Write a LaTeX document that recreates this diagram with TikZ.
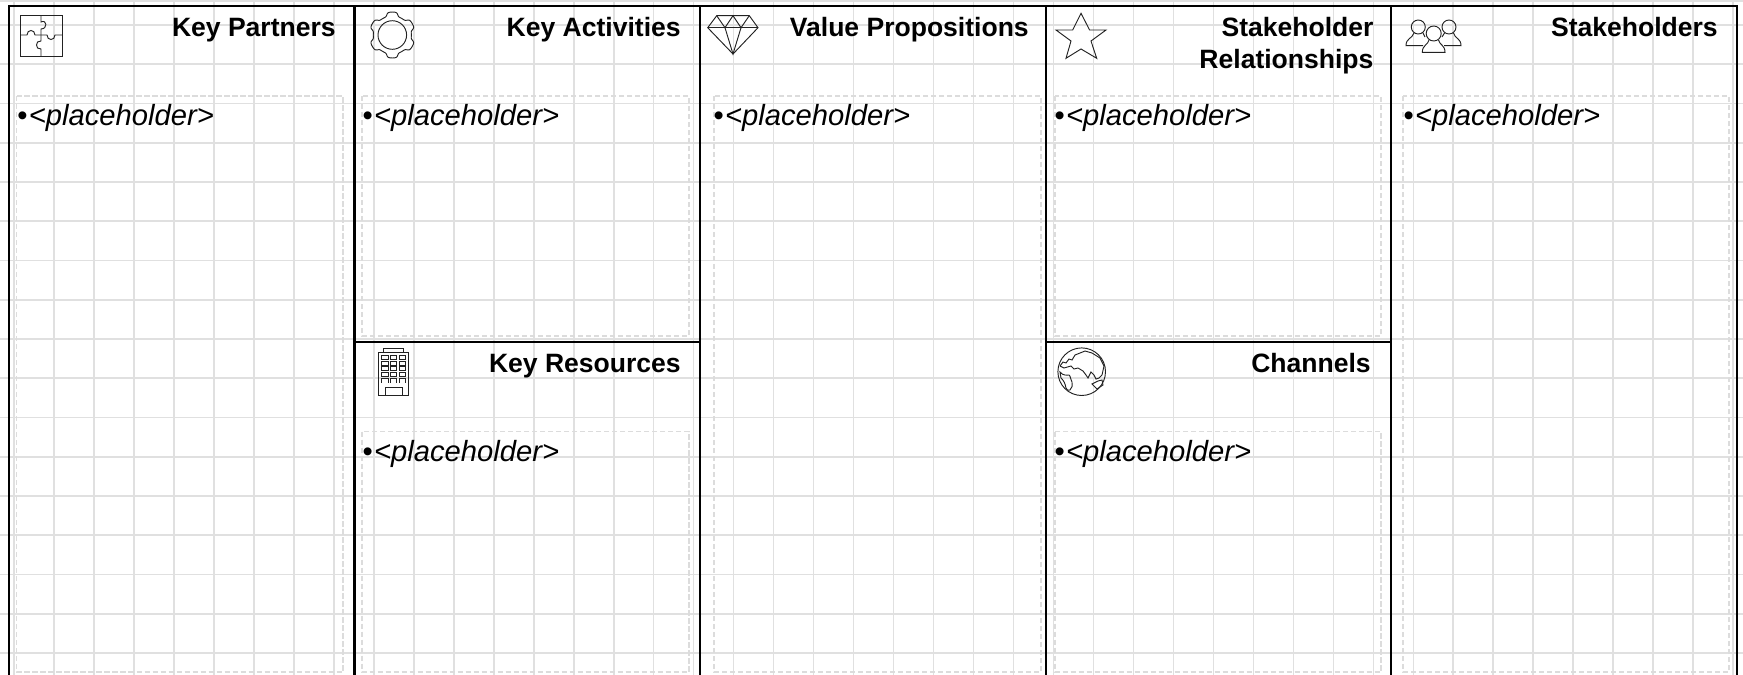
\documentclass[tikz,border=0pt]{standalone}
\usepackage{fontspec}
\setmainfont{Liberation Sans}
\definecolor{gridgray}{HTML}{E0E0E0}
\definecolor{dashgray}{HTML}{DCDCDC}
\definecolor{icongray}{HTML}{222222}
\newcommand{\placeholdertext}{•\kern1pt\textit{<placeholder>}}
\tikzset{
  gridline/.style={color=gridgray,line width=1.2pt},
  dashbox/.style={color=dashgray,line width=1pt,dash pattern=on 4pt off 2pt},
  frameline/.style={color=black,line width=1.6pt},
  iconline/.style={color=icongray,line width=0.7pt},
  windowline/.style={color=icongray,line width=0.45pt},
  titletext/.style={anchor=base east,inner sep=0pt,align=right,font=\fontsize{19.9}{24}\selectfont\bfseries},
  bodytext/.style={anchor=base west,inner sep=0pt,font=\fontsize{21.9}{25}\selectfont}
}
\begin{document}
\begin{tikzpicture}[x=0.75pt,y=-0.75pt]
\useasboundingbox (0,0) rectangle (1743,675);
\draw[gridline,y=0.75pt,shift={(14,-25)},xstep=39.98,ystep=39.25] (-14,-650) grid (1729,25);
\draw[gridline] (0,1) -- (1743,1);
\draw[dashbox] (16.5,96) rectangle (343,672);
\draw[dashbox] (362,96) rectangle (689,336);
\draw[dashbox] (362,431.5) rectangle (689,672);
\draw[dashbox] (714,96) rectangle (1041,672);
\draw[dashbox] (1055,96) rectangle (1381,336);
\draw[dashbox] (1055,431.5) rectangle (1381,672);
\draw[dashbox] (1403,96) rectangle (1729,672);
\draw[frameline] (9,675) -- (9,6) -- (1737,6) -- (1737,675);
\draw[frameline] (354.5,6) -- (354.5,675);
\draw[frameline] (700,6) -- (700,675);
\draw[frameline] (1045.7,6) -- (1045.7,675);
\draw[frameline] (1391,6) -- (1391,675);
\draw[frameline] (354.5,342) -- (700,342);
\draw[frameline] (1045.7,342) -- (1391,342);
\node[titletext] (partners) at (336,36) {Key Partners};
\node[titletext] (activities) at (681,36) {Key Activities};
\node[titletext] (propositions) at (1029,36) {Value Propositions};
\node[titletext] (relationships) at (1373.7,68) {Stakeholder\\Relationships};
\node[titletext] (stakeholders) at (1718,36) {Stakeholders};
\node[titletext] (resources) at (681,372) {Key Resources};
\node[titletext] (channels) at (1371,372) {Channels};
\node[bodytext] (partnerslist) at (17,125) {\placeholdertext};
\node[bodytext] (activitieslist) at (362.3,125) {\placeholdertext};
\node[bodytext] (propositionslist) at (713.3,125) {\placeholdertext};
\node[bodytext] (relationshipslist) at (1054.3,125) {\placeholdertext};
\node[bodytext] (stakeholderslist) at (1403.3,125) {\placeholdertext};
\node[bodytext] (resourceslist) at (362.3,461.5) {\placeholdertext};
\node[bodytext] (channelslist) at (1054.3,461.5) {\placeholdertext};
\draw[iconline] (20,15) rectangle (62,56);
\draw[iconline] (41,15) -- (41,22) .. controls (47,19) and (48,29) .. (41,29) -- (41,41) .. controls (35,40) and (35,50) .. (41,49) -- (41,56);
\draw[iconline] (20,35) -- (27,35) .. controls (27,29) and (35,29) .. (35,35) -- (47,35) .. controls (47,41) and (55,41) .. (55,35) -- (62,35);
\draw[iconline] plot[domain=0:360,samples=181] ({392.3+(21+2*tanh(2.5*cos(6*(\x-90))))*cos(\x)},{35+(21+2*tanh(2.5*cos(6*(\x-90))))*sin(\x)}) -- cycle;
\draw[iconline] (392.3,35) circle (14.3);
\draw[iconline] (716.7,15.7) -- (749.3,15.7) -- (758,27.7) -- (733,54) -- (707.7,27.7) -- cycle;
\draw[iconline] (707.7,27.7) -- (758,27.7);
\draw[iconline] (716.7,15.7) -- (725,27.7) -- (733,15.7) -- (741,27.7) -- (749.3,15.7);
\draw[iconline] (725,27.7) -- (733,54) -- (741,27.7);
\draw[iconline] (1081,13.3) -- (1089.6,30) -- (1106,30) -- (1091,41) -- (1096.7,58.3) -- (1081,49) -- (1066,58.3) -- (1071,41) -- (1056,30) -- (1072.7,30) -- cycle;
\draw[iconline] (1418.3,27) circle (7);
\draw[iconline] (1449,27) circle (7);
\draw[iconline] (1433.7,33.5) circle (7.5);
\draw[iconline] (1423,45.7) -- (1406,45.7) .. controls (1406,38) and (1412,39) .. (1414,33);
\draw[iconline] (1423,33) -- (1425,37);
\draw[iconline] (1444,45.7) -- (1461,45.7) .. controls (1461,38) and (1455,39) .. (1453.5,33);
\draw[iconline] (1444.5,33) -- (1442,37);
\draw[iconline] (1429,40) .. controls (1428,45) and (1422.3,45) .. (1422.3,52.3) -- (1445,52.3) .. controls (1445,45) and (1439.5,45) .. (1438.5,40);
\draw[iconline] (378.3,352.3) rectangle (408.7,395.3);
\draw[iconline] (383.3,348.3) rectangle (403.3,352.3);
\draw[iconline] (385,395.3) -- (385,387.7) -- (402.3,387.7) -- (402.3,395.3);
\draw[windowline] (381.7,355.5) rectangle (388.3,359.5);
\draw[windowline] (390.7,355.5) rectangle (396.7,359.5);
\draw[windowline] (399.3,355.5) rectangle (405.7,359.5);
\draw[windowline] (381.7,361) rectangle (388.3,365);
\draw[windowline] (390.7,361) rectangle (396.7,365);
\draw[windowline] (399.3,361) rectangle (405.7,365);
\draw[windowline] (381.7,366.5) rectangle (388.3,370.5);
\draw[windowline] (390.7,366.5) rectangle (396.7,370.5);
\draw[windowline] (399.3,366.5) rectangle (405.7,370.5);
\draw[windowline] (381.7,372) rectangle (388.3,376);
\draw[windowline] (390.7,372) rectangle (396.7,376);
\draw[windowline] (399.3,372) rectangle (405.7,376);
\draw[windowline] (381.7,378) -- (388.3,378);
\draw[windowline] (390.7,378) -- (396.7,378);
\draw[windowline] (399.3,378) -- (405.7,378);
\draw[windowline] (381.7,378) -- (381.7,383);
\draw[windowline] (388.3,378) -- (388.3,383);
\draw[windowline] (390.7,378) -- (390.7,383);
\draw[windowline] (396.7,378) -- (396.7,383);
\draw[windowline] (399.3,378) -- (399.3,383);
\draw[windowline] (405.7,378) -- (405.7,383);
\draw[iconline] (1081.7,371.7) circle (23.8);
\draw[iconline] (1060,372) .. controls (1063,376) and (1067,375) .. (1069,375) .. controls (1071,376) and (1070,380) .. (1072,382) .. controls (1073,385) and (1072,388) .. (1070,390) .. controls (1068,391) and (1067,390) .. (1066,388) .. controls (1065,383) and (1064,381) .. (1061,378) -- cycle;
\draw[iconline] (1060,366) -- (1063,362) -- (1066,363) -- (1069,359) -- (1072,360) -- (1075,355) -- (1080,353) -- (1085,351) -- (1092,353) -- (1100,358);
\draw[iconline] (1060,366) -- (1064,368) -- (1071,366) -- (1074,369) -- (1078,368) -- (1083,371) -- (1086,375) -- (1088,378) -- (1091,372) -- (1094,375) -- (1096,379) -- (1099,378) -- (1102,375) -- (1104,366) -- (1100,358);
\draw[iconline] (1092,384) -- (1098,381) -- (1102,380) -- (1103,385) -- (1097,389) -- cycle;
\end{tikzpicture}
\end{document}
